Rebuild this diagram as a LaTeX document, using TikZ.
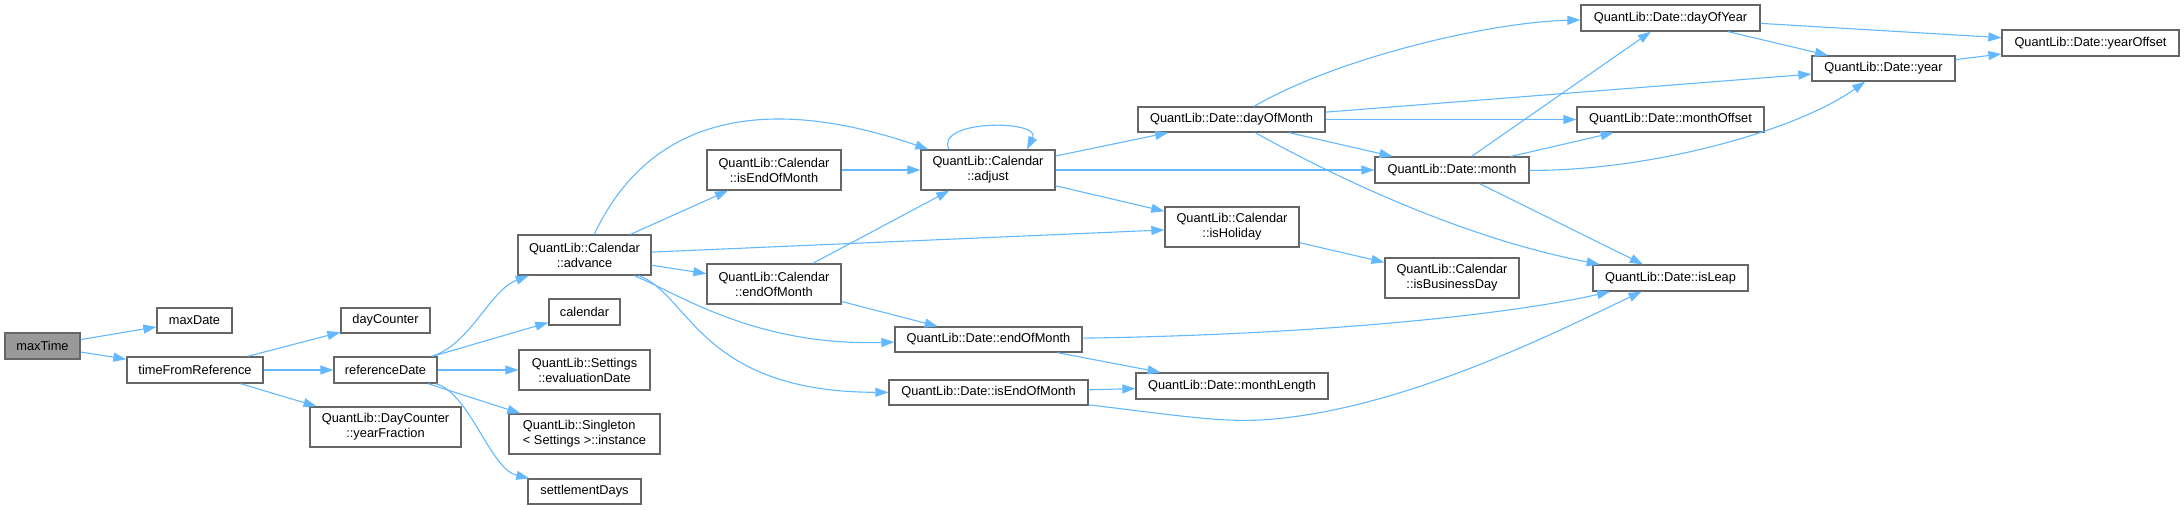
\documentclass[tikz,border=0pt]{standalone}
\usepackage{fontspec}
\setmainfont{Liberation Sans}
\usetikzlibrary{arrows.meta}
\definecolor{edgeblue}{HTML}{63B8FF}
\definecolor{boxgray}{HTML}{666666}
\definecolor{rootfill}{HTML}{999999}
\begin{document}
\begin{tikzpicture}[x=1pt,y=-1pt,
  box/.style={draw=boxgray,line width=1.3pt,fill=white,rectangle,inner sep=0pt,align=center,font=\fontsize{12.8}{15}\selectfont},
  root/.style={box,fill=rootfill},
  sz/.style 2 args={minimum width=#1pt,minimum height=#2pt},
  edge/.style={draw=edgeblue,line width=1.1pt,-{Triangle[length=13pt,width=9pt]}}]
\useasboundingbox (0,0) rectangle (2184,509);

\node[root,sz={75}{26}] (maxTime) at (42.5,346) {maxTime};
\node[box,sz={75}{25}] (maxDate) at (194.5,320.5) {maxDate};
\node[box,sz={136}{26}] (tfr) at (195,370) {timeFromReference};
\node[box,sz={89}{25}] (dayCounter) at (385.5,320.5) {dayCounter};
\node[box,sz={103}{26}] (refDate) at (385.5,370) {referenceDate};
\node[box,sz={151}{40}] (yearFrac) at (385.5,427) {QuantLib::DayCounter\\::yearFraction};
\node[box,sz={133}{40}] (advance) at (584.5,255) {QuantLib::Calendar\\::advance};
\node[box,sz={71}{26}] (calendar) at (584.5,312) {calendar};
\node[box,sz={131}{40}] (evalDate) at (584.5,370) {QuantLib::Settings\\::evaluationDate};
\node[box,sz={151}{40},align=left] (instance) at (584.5,434) {QuantLib::Singleton\\< Settings >::instance};
\node[box,sz={113}{25}] (settle) at (584.5,491.5) {settlementDays};
\node[box,sz={134}{40}] (cIsEOM) at (774,170) {QuantLib::Calendar\\::isEndOfMonth};
\node[box,sz={134}{40}] (cEOM) at (774,284) {QuantLib::Calendar\\::endOfMonth};
\node[box,sz={134}{40}] (adjust) at (988,170) {QuantLib::Calendar\\::adjust};
\node[box,sz={187}{25}] (dayOfMonth) at (1231.5,119.5) {QuantLib::Date::dayOfMonth};
\node[box,sz={154}{26}] (month) at (1452,170) {QuantLib::Date::month};
\node[box,sz={134}{40}] (isHoliday) at (1232,227) {QuantLib::Calendar\\::isHoliday};
\node[box,sz={134}{40}] (isBizDay) at (1452,278) {QuantLib::Calendar\\::isBusinessDay};
\node[box,sz={179}{26}] (dayOfYear) at (1670.5,18) {QuantLib::Date::dayOfYear};
\node[box,sz={143}{25}] (year) at (1883.5,68.5) {QuantLib::Date::year};
\node[box,sz={177}{26}] (yearOffset) at (2090.5,43) {QuantLib::Date::yearOffset};
\node[box,sz={187}{25}] (monthOffset) at (1670.5,119.5) {QuantLib::Date::monthOffset};
\node[box,sz={155}{26}] (isLeap) at (1670.5,278) {QuantLib::Date::isLeap};
\node[box,sz={187}{25}] (dEOM) at (988.5,339.5) {QuantLib::Date::endOfMonth};
\node[box,sz={199}{25}] (dIsEOM) at (988.5,392.5) {QuantLib::Date::isEndOfMonth};
\node[box,sz={192}{26}] (monthLength) at (1232,386) {QuantLib::Date::monthLength};

\draw[edge] (maxTime) -- (maxDate);
\draw[edge] (maxTime) -- (tfr);
\draw[edge] (tfr) -- (dayCounter);
\draw[edge] (tfr) -- (refDate);
\draw[edge] (tfr) -- (yearFrac);
\draw[edge] (refDate) .. controls (470,345) and (490,290) .. (advance);
\draw[edge] (refDate) -- (calendar);
\draw[edge] (refDate) -- (evalDate);
\draw[edge] (refDate) -- (instance);
\draw[edge] (refDate) .. controls (470,393) and (490,469) .. (settle);
\draw[edge] (advance) .. controls (660,95) and (800,105) .. (adjust);
\draw[edge] (advance) -- (cIsEOM);
\draw[edge] (advance) -- (cEOM);
\draw[edge] (advance) -- (isHoliday);
\draw[edge] (advance) .. controls (681,295) and (755,346) .. (dEOM);
\draw[edge] (advance) .. controls (690,295) and (700,392) .. (dIsEOM);
\draw[edge] (cIsEOM) -- (adjust);
\draw[edge] (cEOM) -- (adjust);
\draw[edge] (cEOM) -- (dEOM);
\draw[edge] ([xshift=-39pt]adjust.north) .. controls +(-15,-30) and +(15,-30) .. ([xshift=39pt]adjust.north);
\draw[edge] (adjust) -- (dayOfMonth);
\draw[edge] (adjust) -- (month);
\draw[edge] (adjust) -- (isHoliday);
\draw[edge] (dayOfMonth) .. controls (1339,57) and (1491,22) .. (dayOfYear);
\draw[edge] (dayOfMonth) -- (year);
\draw[edge] (dayOfMonth) -- (monthOffset);
\draw[edge] (dayOfMonth) -- (month);
\draw[edge] (dayOfMonth) .. controls (1344,182) and (1468,239) .. (isLeap);
\draw[edge] (month) -- (dayOfYear);
\draw[edge] (month) -- (monthOffset);
\draw[edge] (month) .. controls (1650,171) and (1796,131) .. (year);
\draw[edge] (month) -- (isLeap);
\draw[edge] (isHoliday) -- (isBizDay);
\draw[edge] (dayOfYear) -- (yearOffset);
\draw[edge] (dayOfYear) -- (year);
\draw[edge] (year) -- (yearOffset);
\draw[edge] (dEOM) .. controls (1300,335) and (1498,317) .. (isLeap);
\draw[edge] (dEOM) -- (monthLength);
\draw[edge] (dIsEOM) -- (monthLength);
\draw[edge] (dIsEOM) .. controls (1180,416) and (1220,422) .. (1260,420) .. controls (1400,412) and (1560,330) .. (isLeap);
\end{tikzpicture}
\end{document}
